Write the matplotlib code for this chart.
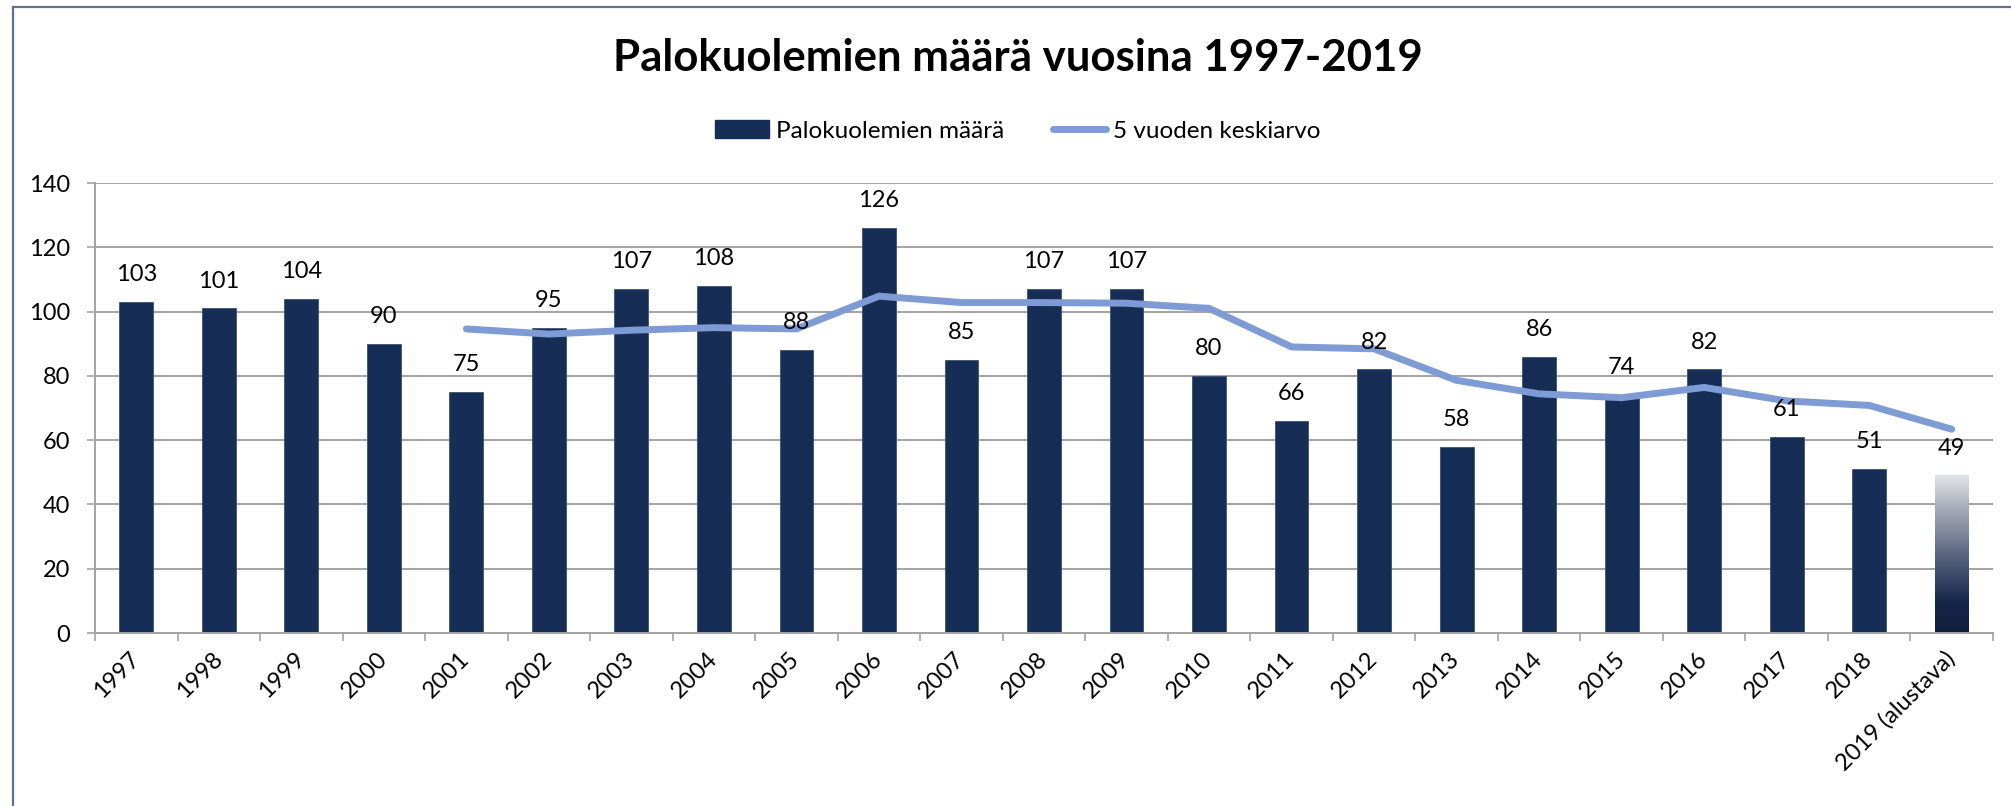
import numpy as np
import matplotlib
matplotlib.use("Agg")
import matplotlib.pyplot as plt
from matplotlib.colors import LinearSegmentedColormap
from matplotlib.patches import Patch
from matplotlib.lines import Line2D

plt.rcParams['font.family'] = ['Lato', 'DejaVu Sans']

# data
years = ['1997', '1998', '1999', '2000', '2001', '2002', '2003', '2004', '2005',
         '2006', '2007', '2008', '2009', '2010', '2011', '2012', '2013', '2014',
         '2015', '2016', '2017', '2018', '2019 (alustava)']
deaths = [103, 101, 104, 90, 75, 95, 107, 108, 88, 126, 85, 107, 107, 80, 66,
          82, 58, 86, 74, 82, 61, 51, 49]
avg_years = years[4:]
avg_values = [94.6, 93.0, 94.2, 95.0, 94.6, 104.8, 102.8, 102.8, 102.6, 101.0,
              89.0, 88.4, 78.6, 74.4, 73.2, 76.4, 72.2, 70.8, 63.4]

bar_color = '#162d55'
line_color = '#7f9bd6'
grid_color = '#a3a3a3'
W, H = 2011, 806
fs = 17

fig = plt.figure(figsize=(W / 100, H / 100), dpi=100)
ax = fig.add_axes([95 / W, 1 - 633 / H, (1993 - 95) / W, (633 - 183) / H])

x = np.arange(len(years))
bw = 0.41
ax.bar(x[:-1], deaths[:-1], width=bw, color=bar_color, zorder=2,
       edgecolor='#3c5275', linewidth=0.6)

# last (preliminary) bar with a gradient fill
cmap = LinearSegmentedColormap.from_list(
    'fade', [(0, '#111e3a'), (0.2, '#15284b'), (0.5, '#5c6780'),
             (0.8, '#a9aeba'), (1.0, '#e3e4e8')])
grad = np.linspace(0, 1, 256).reshape(-1, 1)
ax.imshow(grad, cmap=cmap, aspect='auto', origin='lower', zorder=2,
          extent=[x[-1] - bw / 2, x[-1] + bw / 2, 0, deaths[-1]])

avg_x = [years.index(y) for y in avg_years]
ax.plot(avg_x, avg_values, color=line_color, linewidth=5, zorder=3,
        solid_capstyle='round', solid_joinstyle='round')

for xi, v in zip(x, deaths):
    ax.annotate(str(v), (xi, v), xytext=(0, 12), textcoords='offset points',
                ha='center', va='bottom', fontsize=fs, zorder=4)

ax.set_xlim(-0.5, len(years) - 0.5)
ax.set_ylim(0, 140)
ax.set_yticks(range(0, 141, 20))
ax.yaxis.grid(True, color=grid_color, linewidth=1.4)
ax.set_axisbelow(True)

ax.set_xticks(x)
ax.set_xticklabels(years, rotation=45, ha='right', va='center',
                   rotation_mode='anchor', fontsize=fs)
ax.set_xticks(np.arange(-0.5, len(years), 1), minor=True)
ax.tick_params(axis='x', which='major', length=0, pad=16)
ax.tick_params(axis='x', which='minor', length=6, color=grid_color, width=1.2)
ax.tick_params(axis='y', length=6, color=grid_color, width=1.2, pad=12,
               labelsize=fs)

for s in ['top', 'right']:
    ax.spines[s].set_visible(False)
for s in ['left', 'bottom']:
    ax.spines[s].set_color(grid_color)
    ax.spines[s].set_linewidth(1.4)

fig.text(1018 / W, 1 - 58 / H, 'Palokuolemien määrä vuosina 1997-2019',
         ha='center', va='center', fontsize=31.5, fontweight='bold')

handles = [Patch(color=bar_color), Line2D([], [], color=line_color, linewidth=5,
                                          solid_capstyle='round')]
fig.legend(handles, ['Palokuolemien määrä', '5 vuoden keskiarvo'], ncol=2,
           loc='center', bbox_to_anchor=(1018 / W, 1 - 131 / H), frameon=False,
           fontsize=17.5, handlelength=2.2, handleheight=0.7, handletextpad=0.3,
           columnspacing=2.0)

# outer frame (left and top edges)
frame_color = '#5f7191'
fig.add_artist(Line2D([13 / W, 13 / W], [0, 1 - 7 / H], color=frame_color,
                      linewidth=1.6, transform=fig.transFigure))
fig.add_artist(Line2D([13 / W, 1], [1 - 7 / H, 1 - 7 / H], color=frame_color,
                      linewidth=1.6, transform=fig.transFigure))

fig.savefig('out.png', dpi=100)
